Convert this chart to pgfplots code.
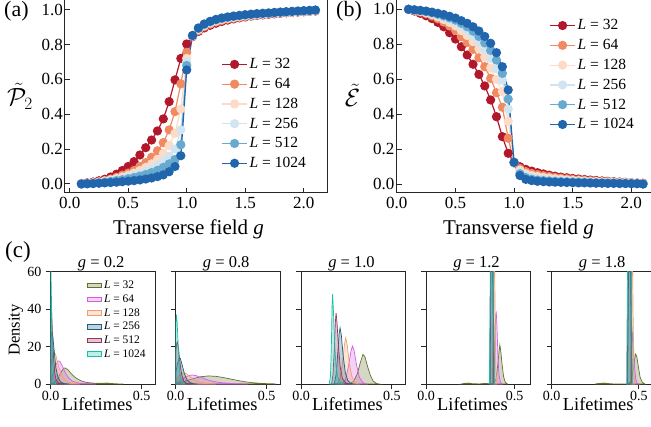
\documentclass[border=0pt]{standalone}
\usepackage{fontspec}
\setmainfont{Liberation Serif}
\usepackage{pgfplots}
\usepackage{pgfplotstable}
\pgfplotsset{compat=1.18}

\definecolor{rb1}{HTML}{B2182B}
\definecolor{rb2}{HTML}{EF8A62}
\definecolor{rb3}{HTML}{FDDBC7}
\definecolor{rb4}{HTML}{D1E5F0}
\definecolor{rb5}{HTML}{67A9CF}
\definecolor{rb6}{HTML}{2166AC}
\definecolor{k1}{RGB}{100,112,45}
\definecolor{k2}{RGB}{214,95,224}
\definecolor{k3}{RGB}{240,160,110}
\definecolor{k4}{RGB}{30,95,125}
\definecolor{k5}{RGB}{145,55,90}
\definecolor{k6}{RGB}{25,190,170}

% (a) purity P2 vs g
\pgfplotstableread{
g    L32   L64   L128  L256  L512  L1024
0.10 0.002 0.001 0.001 0.001 0.000 0.000
0.15 0.006 0.004 0.003 0.002 0.002 0.001
0.20 0.011 0.008 0.006 0.005 0.004 0.002
0.25 0.018 0.013 0.010 0.008 0.007 0.004
0.30 0.027 0.020 0.016 0.013 0.010 0.006
0.35 0.040 0.028 0.023 0.018 0.014 0.008
0.40 0.056 0.038 0.031 0.025 0.019 0.010
0.45 0.077 0.050 0.040 0.032 0.024 0.013
0.50 0.100 0.062 0.050 0.040 0.030 0.016
0.55 0.128 0.077 0.062 0.049 0.037 0.019
0.60 0.166 0.100 0.077 0.060 0.045 0.023
0.65 0.208 0.122 0.095 0.072 0.054 0.028
0.70 0.252 0.153 0.115 0.087 0.065 0.034
0.75 0.304 0.190 0.140 0.105 0.078 0.042
0.80 0.373 0.237 0.175 0.130 0.095 0.052
0.85 0.472 0.310 0.220 0.160 0.115 0.070
0.90 0.597 0.415 0.290 0.200 0.140 0.100
0.95 0.720 0.574 0.430 0.310 0.225 0.162
1.00 0.803 0.755 0.720 0.700 0.680 0.654
1.05 0.845 0.848 0.849 0.850 0.851 0.852
1.10 0.875 0.880 0.885 0.889 0.892 0.895
1.15 0.895 0.902 0.908 0.912 0.915 0.918
1.20 0.910 0.917 0.923 0.927 0.930 0.933
1.25 0.922 0.929 0.934 0.938 0.941 0.944
1.30 0.932 0.938 0.943 0.947 0.950 0.952
1.35 0.940 0.945 0.950 0.953 0.956 0.958
1.40 0.947 0.951 0.955 0.958 0.961 0.963
1.45 0.953 0.956 0.960 0.963 0.965 0.967
1.50 0.958 0.961 0.964 0.967 0.969 0.971
1.55 0.963 0.965 0.968 0.970 0.972 0.974
1.60 0.967 0.969 0.971 0.973 0.975 0.977
1.65 0.970 0.972 0.974 0.976 0.978 0.979
1.70 0.973 0.975 0.977 0.979 0.980 0.981
1.75 0.976 0.978 0.980 0.981 0.982 0.984
1.80 0.979 0.981 0.982 0.983 0.985 0.986
1.85 0.982 0.983 0.984 0.985 0.987 0.988
1.90 0.984 0.985 0.986 0.987 0.989 0.990
1.95 0.986 0.987 0.988 0.989 0.991 0.992
2.00 0.988 0.989 0.990 0.991 0.993 0.994
2.05 0.990 0.991 0.992 0.993 0.994 0.996
2.10 0.992 0.993 0.994 0.995 0.996 0.998
}\purity

% (b) energy-like quantity vs g
\pgfplotstableread{
g    L32   L64   L128  L256  L512  L1024
0.10 1.000 1.000 1.000 1.000 1.000 1.000
0.15 0.990 0.993 0.995 0.996 0.997 0.997
0.20 0.977 0.985 0.988 0.990 0.992 0.994
0.25 0.963 0.975 0.980 0.984 0.987 0.990
0.30 0.947 0.962 0.970 0.976 0.980 0.984
0.35 0.925 0.946 0.957 0.966 0.972 0.977
0.40 0.900 0.927 0.942 0.954 0.962 0.970
0.45 0.866 0.905 0.925 0.940 0.951 0.960
0.50 0.830 0.880 0.905 0.924 0.938 0.950
0.55 0.786 0.843 0.878 0.902 0.920 0.935
0.60 0.739 0.810 0.850 0.878 0.900 0.920
0.65 0.686 0.771 0.815 0.848 0.875 0.900
0.70 0.628 0.723 0.775 0.812 0.845 0.876
0.75 0.562 0.672 0.727 0.770 0.808 0.845
0.80 0.482 0.605 0.665 0.720 0.765 0.806
0.85 0.386 0.523 0.600 0.660 0.710 0.752
0.90 0.272 0.440 0.530 0.595 0.634 0.672
0.95 0.177 0.263 0.360 0.430 0.487 0.539
1.00 0.123 0.123 0.124 0.124 0.125 0.125
1.05 0.100 0.090 0.080 0.070 0.060 0.050
1.10 0.085 0.072 0.060 0.048 0.038 0.028
1.15 0.075 0.062 0.050 0.039 0.029 0.021
1.20 0.066 0.055 0.044 0.033 0.024 0.017
1.25 0.059 0.049 0.039 0.029 0.021 0.015
1.30 0.052 0.044 0.035 0.026 0.019 0.013
1.35 0.046 0.039 0.031 0.023 0.017 0.012
1.40 0.041 0.035 0.028 0.021 0.015 0.011
1.45 0.037 0.031 0.025 0.019 0.014 0.010
1.50 0.033 0.028 0.022 0.017 0.013 0.009
1.55 0.030 0.025 0.020 0.015 0.012 0.008
1.60 0.027 0.023 0.018 0.014 0.011 0.008
1.65 0.024 0.020 0.016 0.013 0.010 0.007
1.70 0.022 0.018 0.015 0.012 0.009 0.006
1.75 0.019 0.016 0.013 0.011 0.008 0.006
1.80 0.017 0.015 0.012 0.010 0.007 0.005
1.85 0.015 0.013 0.011 0.009 0.007 0.005
1.90 0.013 0.012 0.010 0.008 0.006 0.004
1.95 0.011 0.010 0.009 0.007 0.005 0.004
2.00 0.009 0.008 0.007 0.006 0.005 0.003
2.05 0.007 0.007 0.006 0.005 0.004 0.003
2.10 0.006 0.005 0.004 0.003 0.002 0.001
}\energy

\pgfplotsset{
  spines/.style={axis line style={draw=black!85, line width=1pt},
    tick style={draw=black!85, line width=0.9pt}},
  lp/.style={color=#1, line width=1.2pt, mark=*, mark size=4pt,
    mark options={solid, fill=#1, draw=#1}},
  kd/.style={draw=#1, line width=0.7pt, fill=#1, fill opacity=0.28},
  topax/.style={scale only axis, height=194pt, spines,
    tick align=inside, major tick length=5pt, xtick pos=bottom, ytick pos=left,
    xtick={0,0.5,1,1.5,2}, ytick={0,0.2,0.4,0.6,0.8,1},
    /pgf/number format/fixed, /pgf/number format/fixed zerofill,
    /pgf/number format/precision=1, /pgf/number format/assume math mode=true,
    tick label style={font=\fontsize{17}{17}\selectfont},
    xticklabel style={inner sep=0pt, yshift=-4pt},
    yticklabel style={inner sep=0pt, xshift=-2pt},
    legend cell align=left,
    legend style={draw=none, fill=none, anchor=north west,
      font=\fontsize{15.5}{15.5}\selectfont, row sep=4pt},
    legend image code/.code={\draw[mark repeat=2, mark phase=2, #1]
      plot coordinates {(0pt,0pt) (12.5pt,0pt) (25pt,0pt)};}},
  cax/.style={scale only axis, width=104.5pt, height=112.3pt, spines,
    xmin=0, xmax=0.575, ymin=0, ymax=60,
    tick align=outside, major tick length=5pt, xtick pos=bottom, ytick pos=left,
    xtick={0,0.5}, xticklabels={0.0,0.5}, ytick={0,20,40,60}, yticklabels={},
    tick label style={font=\fontsize{14}{14}\selectfont},
    xticklabel style={inner sep=0pt, yshift=-2pt},
    yticklabel style={inner sep=0pt, xshift=-4pt}},
}

\begin{document}
\begin{tikzpicture}[x=1pt, y=1pt]
\useasboundingbox (0,0) rectangle (651,426);

% ---------- (a) ----------
\begin{axis}[topax, at={(65pt,233pt)}, anchor=south west, width=262pt,
  xmin=-0.04, xmax=2.199, ymin=-0.052, ymax=1.061,
  legend style={at={(0.585,0.715)}}]
\addplot[lp=rb1] table[x=g, y=L32] {\purity};
\addplot[lp=rb2] table[x=g, y=L64] {\purity};
\addplot[lp=rb3] table[x=g, y=L128] {\purity};
\addplot[lp=rb4] table[x=g, y=L256] {\purity};
\addplot[lp=rb5] table[x=g, y=L512] {\purity};
\addplot[lp=rb6] table[x=g, y=L1024] {\purity};
\legend{\textit{L} = 32, \textit{L} = 64, \textit{L} = 128, \textit{L} = 256, \textit{L} = 512, \textit{L} = 1024}
\end{axis}

% ---------- (b) ----------
\begin{axis}[topax, at={(396.5pt,233pt)}, anchor=south west, width=256pt,
  xmin=-0.003, xmax=2.181, ymin=-0.05, ymax=1.059,
  legend style={at={(0.585,0.915)}}]
\addplot[lp=rb1] table[x=g, y=L32] {\energy};
\addplot[lp=rb2] table[x=g, y=L64] {\energy};
\addplot[lp=rb3] table[x=g, y=L128] {\energy};
\addplot[lp=rb4] table[x=g, y=L256] {\energy};
\addplot[lp=rb5] table[x=g, y=L512] {\energy};
\addplot[lp=rb6] table[x=g, y=L1024] {\energy};
\legend{\textit{L} = 32, \textit{L} = 64, \textit{L} = 128, \textit{L} = 256, \textit{L} = 512, \textit{L} = 1024}
\end{axis}

% ---------- (c) g = 0.2 ----------
\begin{axis}[cax, at={(50.7pt,42pt)}, anchor=south west, yticklabels={0,20,40,60},
  legend cell align=left,
  legend style={draw=none, fill=none, at={(0.32,0.955)}, anchor=north west,
    font=\fontsize{11.5}{11.5}\selectfont, row sep=0.6pt},
  legend image code/.code={\draw[#1] (0pt,-2.3pt) rectangle (14pt,2.3pt);}]
\addplot[kd=k1] coordinates {(0,0.1) (0.02,0.8) (0.04,3.0) (0.055,6.0) (0.07,8.3) (0.08,8.6) (0.095,7.6) (0.11,5.8) (0.13,3.9) (0.15,2.5) (0.175,1.4) (0.2,0.8) (0.23,0.5) (0.26,0.35) (0.29,0.45) (0.31,0.5) (0.33,0.3) (0.36,0.1) (0.4,0)} \closedcycle;
\addplot[kd=k2] coordinates {(0,1.5) (0.01,4.5) (0.025,9.5) (0.04,12.3) (0.05,12.2) (0.065,9.5) (0.08,6) (0.1,3) (0.12,1.5) (0.15,0.6) (0.2,0.2) (0.25,0)} \closedcycle;
\addplot[kd=k3] coordinates {(0,9) (0.008,14) (0.018,17) (0.028,15.5) (0.04,10.5) (0.055,6) (0.07,3) (0.09,1.3) (0.12,0.4) (0.16,0)} \closedcycle;
\addplot[kd=k4] coordinates {(0,22) (0.005,27.5) (0.01,27) (0.018,19) (0.028,9) (0.04,3.5) (0.055,1) (0.075,0.2) (0.1,0)} \closedcycle;
\addplot[kd=k5] coordinates {(0,46) (0.004,41) (0.009,29) (0.015,15) (0.022,6) (0.03,2) (0.045,0.4) (0.06,0)} \closedcycle;
\addplot[kd=k6] coordinates {(0,66) (0.003,52) (0.006,34) (0.01,16) (0.015,5) (0.02,1.2) (0.03,0)} \closedcycle;
\legend{\textit{L} = 32, \textit{L} = 64, \textit{L} = 128, \textit{L} = 256, \textit{L} = 512, \textit{L} = 1024}
\end{axis}

% ---------- (c) g = 0.8 ----------
\begin{axis}[cax, at={(175.7pt,42pt)}, anchor=south west]
\addplot[kd=k1] coordinates {(0,0.2) (0.03,0.8) (0.06,1.8) (0.1,3.0) (0.14,3.9) (0.18,4.3) (0.22,4.1) (0.26,3.5) (0.3,2.7) (0.34,1.9) (0.38,1.2) (0.42,0.7) (0.46,0.4) (0.5,0.2) (0.55,0.05)} \closedcycle;
\addplot[kd=k2] coordinates {(0,0.4) (0.02,1.5) (0.04,3.0) (0.07,4.4) (0.09,4.8) (0.11,4.5) (0.14,3.5) (0.17,2.4) (0.21,1.3) (0.26,0.6) (0.32,0.2) (0.4,0)} \closedcycle;
\addplot[kd=k3] coordinates {(0,1.8) (0.015,3.8) (0.03,5.5) (0.045,6.0) (0.06,5.4) (0.08,3.8) (0.1,2.3) (0.13,1.0) (0.17,0.3) (0.22,0)} \closedcycle;
\addplot[kd=k4] coordinates {(0,6) (0.008,10) (0.018,13.5) (0.026,13.6) (0.036,10) (0.048,5.5) (0.062,2.3) (0.08,0.7) (0.1,0.1) (0.12,0)} \closedcycle;
\addplot[kd=k5] coordinates {(0,17) (0.006,22) (0.01,22.5) (0.016,18.5) (0.024,11) (0.033,5) (0.045,1.5) (0.06,0.3) (0.08,0)} \closedcycle;
\addplot[kd=k6] coordinates {(0,32) (0.004,37) (0.008,33) (0.013,22) (0.019,10) (0.026,3.2) (0.035,0.7) (0.05,0)} \closedcycle;
\end{axis}

% ---------- (c) g = 1.0 ----------
\begin{axis}[cax, at={(301pt,42pt)}, anchor=south west]
\addplot[kd=k1] coordinates {(0.265,0) (0.29,1.5) (0.31,5.5) (0.328,12) (0.341,15.8) (0.352,14.5) (0.366,9.5) (0.382,4.5) (0.398,1.5) (0.415,0.3) (0.43,0)} \closedcycle;
\addplot[kd=k2] coordinates {(0.225,0) (0.245,2.5) (0.262,10) (0.275,17.5) (0.283,20.3) (0.292,18) (0.306,10) (0.322,3.5) (0.34,0.8) (0.36,0)} \closedcycle;
\addplot[kd=k3] coordinates {(0.2,0) (0.215,3) (0.228,11) (0.239,21) (0.246,24.7) (0.254,21) (0.266,11) (0.28,4) (0.296,1) (0.315,0)} \closedcycle;
\addplot[kd=k4] coordinates {(0.183,0) (0.193,5) (0.202,16) (0.21,27) (0.215,30) (0.222,26) (0.232,15) (0.244,6) (0.258,1.8) (0.275,0.3) (0.29,0)} \closedcycle;
\addplot[kd=k5] coordinates {(0.168,0) (0.176,5) (0.183,18) (0.189,33) (0.193,38) (0.198,33) (0.206,20) (0.216,9) (0.228,3) (0.245,0.7) (0.265,0)} \closedcycle;
\addplot[kd=k6] coordinates {(0.155,0) (0.162,4) (0.167,20) (0.171,42) (0.174,48) (0.178,40) (0.184,24) (0.192,10) (0.202,3.5) (0.215,1) (0.235,0)} \closedcycle;
\end{axis}

% ---------- (c) g = 1.2 ----------
\begin{axis}[cax, at={(426pt,42pt)}, anchor=south west, xmax=0.59]
\addplot[kd=k1] coordinates {(0.2,0) (0.22,0.4) (0.24,0.5) (0.26,0.2) (0.3,0.05) (0.33,0.3) (0.35,0.2) (0.38,0.3) (0.395,2.5) (0.405,10) (0.412,17) (0.417,20.8) (0.423,17) (0.43,10) (0.438,4) (0.447,1) (0.46,0)} \closedcycle;
\addplot[kd=k2] coordinates {(0.38,0) (0.386,10) (0.39,28) (0.394,37) (0.397,38) (0.401,30) (0.406,15) (0.412,5) (0.42,1) (0.43,0)} \closedcycle;
\addplot[kd=k3] coordinates {(0.375,0) (0.381,50) (0.385,80) (0.389,50) (0.394,8) (0.4,0)} \closedcycle;
\addplot[kd=k4] coordinates {(0.362,0) (0.367,70) (0.373,90) (0.378,70) (0.384,0)} \closedcycle;
\addplot[kd=k5] coordinates {(0.36,0) (0.365,70) (0.37,90) (0.376,70) (0.382,0)} \closedcycle;
\addplot[kd=k6] coordinates {(0.358,0) (0.363,60) (0.366,90) (0.378,90) (0.381,60) (0.386,0)} \closedcycle;
\end{axis}

% ---------- (c) g = 1.8 ----------
\begin{axis}[cax, at={(551.7pt,42pt)}, anchor=south west, xmax=0.6]
\addplot[kd=k1] coordinates {(0.25,0) (0.27,0.3) (0.3,0.5) (0.33,0.2) (0.36,0) (0.44,0) (0.455,1.5) (0.467,7) (0.476,13) (0.482,16) (0.489,14.5) (0.498,9) (0.508,3.5) (0.52,1) (0.535,0)} \closedcycle;
\addplot[kd=k2] coordinates {(0.452,0) (0.457,8) (0.461,22) (0.465,28) (0.469,22) (0.475,10) (0.482,3) (0.49,0.5) (0.5,0)} \closedcycle;
\addplot[kd=k3] coordinates {(0.452,0) (0.458,50) (0.462,80) (0.466,50) (0.471,6) (0.478,0)} \closedcycle;
\addplot[kd=k4] coordinates {(0.436,0) (0.442,70) (0.448,90) (0.454,70) (0.46,0)} \closedcycle;
\addplot[kd=k5] coordinates {(0.434,0) (0.44,70) (0.446,90) (0.452,70) (0.458,0)} \closedcycle;
\addplot[kd=k6] coordinates {(0.43,0) (0.435,60) (0.438,90) (0.455,90) (0.458,60) (0.463,0)} \closedcycle;
\end{axis}

% ---------- labels ----------
\node[anchor=base west, inner sep=0pt, font=\fontsize{22}{22}\selectfont] at (4,409.5) {(a)};
\node[anchor=base west, inner sep=0pt, font=\fontsize{22}{22}\selectfont] at (336,409.5) {(b)};
\node[anchor=base west, inner sep=0pt, font=\fontsize{23}{23}\selectfont] at (5,168) {(c)};
\node[inner sep=0pt, font=\fontsize{24}{24}\selectfont] at (20,329.5) {$\tilde{\mathcal{P}}_2$};
\node[inner sep=0pt, font=\fontsize{30}{30}\selectfont] at (352.5,331) {$\tilde{\mathcal{E}}$};
\node[anchor=base, inner sep=0pt, font=\fontsize{21}{21}\selectfont] at (188.5,191) {Transverse field \textit{g}};
\node[anchor=base, inner sep=0pt, font=\fontsize{21}{21}\selectfont] at (518.5,191) {Transverse field \textit{g}};
\node[rotate=90, inner sep=0pt, font=\fontsize{16.6}{16.6}\selectfont] at (16,96) {Density};
\foreach \l/\t in {50.7/0.2, 175.7/0.8, 301/1.0, 426/1.2, 551.7/1.8} {
  \node[anchor=base, inner sep=0pt, font=\fontsize{16.5}{16.5}\selectfont] at (\l+50.5,158) {\textit{g} = \t};
  \node[anchor=base, inner sep=0pt, font=\fontsize{18.4}{18.4}\selectfont] at (\l+46.5,15.8) {Lifetimes};
}
\end{tikzpicture}
\end{document}
